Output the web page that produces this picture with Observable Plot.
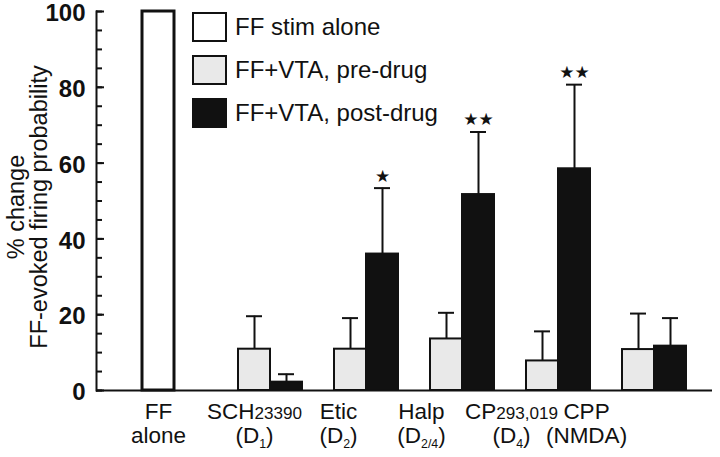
<!DOCTYPE html>
<html>
<head>
<meta charset="utf-8">
<script src="https://cdn.jsdelivr.net/npm/d3@7"></script>
<script src="https://cdn.jsdelivr.net/npm/@observablehq/plot@0.6"></script>
<style>
  body { margin: 0; background: #fff; }
  #wrap { position: relative; width: 720px; height: 457px; font-family: "Liberation Sans", Arial, Helvetica, sans-serif; }
  #legend { position: absolute; left: 192px; top: 12px; }
  .li { display: flex; align-items: center; height: 30px; margin-bottom: 13px; font-size: 24px; color: #111; }
  .sw { width: 31px; height: 26px; border: 2.5px solid #111; margin-right: 8px; box-sizing: content-box; }
</style>
</head>
<body>
<div id="wrap"><div id="legend"></div></div>
<script>
// ---- data ----
const groups = ["FF alone", "SCH23390", "Etic", "Halp", "CP293,019", "CPP"];
const seriesNames = ["FF stim alone", "FF+VTA, pre-drug", "FF+VTA, post-drug"];
const seriesColors = ["#ffffff", "#e9e9e9", "#111111"];
const ffAloneValue = 100;
const drugs = ["SCH23390", "Etic", "Halp", "CP293,019", "CPP"];
const preDrug = [10.9, 10.9, 13.6, 7.8, 10.8];
const preDrugErr = [8.7, 8.2, 6.9, 7.8, 9.5];
const postDrug = [2.2, 36.0, 51.7, 58.5, 11.7];
const postDrugErr = [2.1, 17.4, 16.5, 22.2, 7.4];
const significance = ["", "★", "★★", "★★", ""];
const labelLine1 = ["FF", "SCH|23390", "Etic", "Halp", "CP|293,019", "CPP"];
const labelLine2 = ["alone", "(D_1)", "(D_2)", "(D_2/4)", "(D_4)", "(NMDA)"];
const yTicks = [0, 20, 40, 60, 80, 100];
const yMinorTicks = [0, 5, 10, 15, 20, 25, 30, 35, 40, 45, 50, 55, 60, 65, 70, 75, 80, 85, 90, 95, 100];

// ---- build tables ----
const domain = ["FF"];
domain.push("gap0", "gap1");
drugs.forEach((d, i) => {
  domain.push(d + "|pre", d + "|post");
  if (i < drugs.length - 1) domain.push("gap" + (i + 2));
});
const ffRow = [{key: "FF", value: ffAloneValue}];
const preRows = drugs.map((d, i) => ({key: d + "|pre", value: preDrug[i], err: preDrugErr[i]}));
const postRows = drugs.map((d, i) => ({key: d + "|post", value: postDrug[i], err: postDrugErr[i], sig: significance[i]}));
const errRows = preRows.concat(postRows);

const W = 720, H = 457, mL = 96, mR = 8, mT = 11, mB = 67;
const frameW = W - mL - mR;
const padOuter = 1.037, align = 0.64;

// label anchor: FF band or the pre-drug bar of each group, with a nudge
const labelKeys = ["FF"].concat(drugs.map(d => d + "|pre"));
const labelNudge = [0, 0, -12, -25, -31, -52];

const font = "Liberation Sans, Arial, Helvetica, sans-serif";
const marks = [
  Plot.rectY(ffRow, {x: "key", y: "value", fill: seriesColors[0], stroke: "#111", strokeWidth: 3}),
  Plot.ruleX(errRows, {x: "key", y1: "value", y2: d => d.value + d.err, stroke: "#111", strokeWidth: 2}),
  Plot.tickY(errRows, {x: "key", y: d => d.value + d.err, stroke: "#111", strokeWidth: 2, insetLeft: 8, insetRight: 8}),
  Plot.rectY(preRows, {x: "key", y: "value", fill: seriesColors[1], stroke: "#111", strokeWidth: 2}),
  Plot.rectY(postRows, {x: "key", y: "value", fill: seriesColors[2], stroke: "#111", strokeWidth: 2}),
  Plot.text(postRows, {x: "key", y: d => d.value + d.err, text: "sig", dy: -12, fontSize: 17, fill: "#111", fontFamily: "DejaVu Sans"}),
  // inward y ticks (minor every 5, major every 20)
  Plot.tickY(yMinorTicks, {y: d => d, stroke: "#111", strokeWidth: 2, insetRight: frameW - 6}),
  Plot.tickY(yTicks, {y: d => d, stroke: "#111", strokeWidth: 2, insetRight: frameW - 8}),
  Plot.ruleY([0], {stroke: "#111", strokeWidth: 2}),
  Plot.frame({anchor: "left", stroke: "#111", strokeWidth: 2}),
  Plot.axisY({ticks: yTicks, tickSize: 0, tickPadding: 11, dy: 2, label: null, fontSize: 24, fontWeight: "bold", fill: "#111"}),
  Plot.text(["% change\nFF-evoked firing probability"], {frameAnchor: "left", textAnchor: "middle", rotate: -90, dx: -68, dy: 6, fontSize: 23.5, lineHeight: 0.98, fill: "#111"})
];
labelKeys.forEach((k, i) => {
  marks.push(Plot.text([labelLine1[i]], {x: () => k, y: () => 0, text: d => d, dx: labelNudge[i], dy: 13, lineAnchor: "top", fontSize: 22.5, fill: "#111"}));
  marks.push(Plot.text([labelLine2[i]], {x: () => k, y: () => 0, text: d => d, dx: labelNudge[i], dy: 37, lineAnchor: "top", fontSize: 22.5, fill: "#111"}));
});

const chart = Plot.plot({
  width: W, height: H,
  marginLeft: mL, marginRight: mR, marginTop: mT, marginBottom: mB,
  style: {fontFamily: font, background: "#fff"},
  x: {type: "band", domain, paddingInner: 0, paddingOuter: padOuter, align, axis: null},
  y: {domain: [0, 100], axis: null},
  marks
});

// rich text for subscripts / small digits
const NS = "http://www.w3.org/2000/svg";
chart.querySelectorAll("text").forEach(t => {
  const s = t.textContent;
  if (s.includes("|")) {
    const [a, b] = s.split("|");
    t.textContent = "";
    const t1 = document.createElementNS(NS, "tspan"); t1.textContent = a;
    const t2 = document.createElementNS(NS, "tspan"); t2.textContent = b; t2.setAttribute("font-size", "0.76em");
    t.append(t1, t2);
  } else if (s.includes("_")) {
    const m = s.match(/^(.*)_([^)]*)(.*)$/);
    t.textContent = "";
    const t1 = document.createElementNS(NS, "tspan"); t1.textContent = m[1];
    const t2 = document.createElementNS(NS, "tspan"); t2.textContent = m[2]; t2.setAttribute("font-size", "0.55em"); t2.setAttribute("dy", "0.35em");
    const t3 = document.createElementNS(NS, "tspan"); t3.textContent = m[3]; t3.setAttribute("dy", "-0.2em");
    t.append(t1, t2, t3);
  }
});

document.getElementById("wrap").prepend(chart);
chart.style.display = "block";

// legend
const legend = document.getElementById("legend");
seriesNames.forEach((n, i) => {
  const row = document.createElement("div"); row.className = "li";
  const sw = document.createElement("div"); sw.className = "sw"; sw.style.background = seriesColors[i];
  const lb = document.createElement("span"); lb.textContent = n;
  row.append(sw, lb); legend.append(row);
});
</script>
</body>
</html>
